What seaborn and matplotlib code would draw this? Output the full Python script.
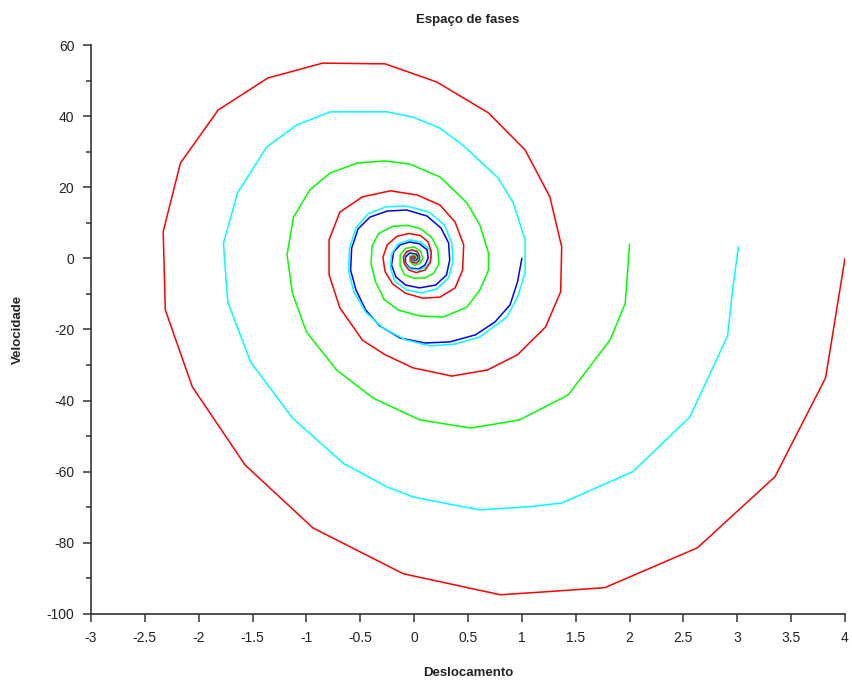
#%%
import numpy as np
import pandas as pd
import matplotlib
matplotlib.use('Agg')
import matplotlib.pyplot as plt
from matplotlib.ticker import MultipleLocator, FuncFormatter
import seaborn as sns

sns.set_theme(style='ticks')
plt.rcParams['font.family'] = ['Liberation Sans', 'DejaVu Sans']
plt.rcParams['axes.unicode_minus'] = False

#----------------------------------------
# Trajetórias (deslocamento, velocidade)

# x0 = 1 (azul)
x_azul = [1.00, 0.96, 0.89, 0.75, 0.57, 0.33, 0.10, -0.13, -0.32, -0.45, -0.54, -0.59,
          -0.58, -0.52, -0.41, -0.25, -0.07, 0.12, 0.25, 0.32, 0.33, 0.30, 0.20,
          0.05, -0.08, -0.17, -0.21, -0.19, -0.13, -0.04, 0.05, 0.12, 0.13, 0.10, 0.04,
          -0.04, -0.08, -0.08, -0.04, 0.02, 0.04, 0.01, -0.02, 0.00]
v_azul = [0.0, -6.6, -13.1, -17.9, -21.5, -23.5, -23.8, -22.4, -19.0, -14.5, -8.9, -3.3,
          2.9, 8.3, 11.6, 13.3, 13.6, 11.9, 8.5, 4.3, -0.5, -4.7, -7.5,
          -8.3, -7.5, -5.2, -1.9, 1.8, 3.8, 4.6, 4.1, 2.4, 0.1, -1.9, -3.0,
          -2.7, -1.3, 0.4, 1.5, 1.2, 0.1, -0.7, -0.2, 0.1]

# x0 = 2 (verde)
x_verde = [2.00, 1.96, 1.82, 1.43, 0.98, 0.71, 0.52, 0.05, -0.38, -0.72, -1.00, -1.13,
           -1.18, -1.12, -0.97, -0.78, -0.53, -0.27, -0.04, 0.24, 0.49, 0.61, 0.69,
           0.69, 0.61, 0.49, 0.27, 0.05,
           -0.15, -0.28, -0.36, -0.40, -0.39, -0.33, -0.20, -0.06, 0.06, 0.16, 0.22,
           0.23, 0.18, 0.10, 0.00, -0.09, -0.13, -0.13, -0.08, 0.00, 0.06, 0.08,
           0.05, 0.00, -0.04, -0.04, 0.00, 0.02, 0.00]
v_verde = [4.0, -12.6, -22.9, -38.4, -45.4, -46.8, -47.7, -45.4, -39.3, -31.4, -20.7, -9.8,
           1.0, 11.6, 19.2, 24.0, 26.8, 27.4, 26.5, 22.9, 15.6, 9.4, 1.5,
           -3.3, -8.9, -13.7, -16.5, -16.2,
           -14.5, -11.5, -6.5, -1.5, 3.5, 7.0, 9.0, 9.3, 8.3, 6.0, 2.5,
           -1.5, -4.2, -5.5, -5.6, -4.6, -2.0, 1.0, 2.8, 3.2, 2.0, 0.0,
           -1.5, -1.9, -0.9, 0.5, 1.0, 0.3, -0.3]

# x0 = 3 (ciano)
x_ciano = [3.01, 2.96, 2.91, 2.56, 2.03, 1.37, 1.05, 0.61, 0.36, -0.01, -0.25, -0.66,
           -1.13, -1.52, -1.73, -1.76, -1.77, -1.64, -1.37, -1.09, -0.78, -0.25, -0.01,
           0.24, 0.45, 0.78, 0.92, 1.03, 1.03, 0.96, 0.86, 0.61,
           0.38, 0.15, -0.08, -0.29, -0.45, -0.56, -0.61, -0.60, -0.54, -0.43, -0.26,
           -0.07, 0.14, 0.28, 0.35, 0.36, 0.32, 0.21, 0.07, -0.07, -0.18, -0.22,
           -0.21, -0.15, -0.04, 0.06, 0.14, 0.16, 0.12, 0.05, -0.04, -0.09, -0.09,
           -0.05, 0.02, 0.05, 0.04, -0.01, -0.03, 0.00]
v_ciano = [3.2, -8.0, -21.8, -44.6, -60.0, -68.8, -69.9, -70.7, -69.3, -67.1, -64.3, -57.6,
           -44.9, -29.1, -12.3, -0.4, 4.3, 18.4, 31.3, 37.5, 41.2, 41.2, 39.7,
           36.6, 31.9, 22.6, 15.6, 5.2, -4.1, -10.9, -16.5, -22.1,
           -24.1, -24.6, -22.9, -19.6, -15.1, -9.4, -3.3, 2.9, 8.6, 12.5, 14.5,
           14.7, 13.0, 9.4, 4.3, -1.0, -5.5, -8.6, -9.7, -8.9, -6.4, -2.7,
           1.2, 4.0, 5.2, 4.6, 2.6, 0.1, -2.1, -3.3, -3.0, -1.3, 0.7,
           2.1, 2.1, 0.7, -0.7, -1.0, 0.1, 0.4]

# x0 = 4 (vermelho)
x_verm = [4.00, 3.82, 3.35, 2.63, 1.77, 1.30, 0.80, -0.10, -0.94, -1.57, -2.06, -2.31, -2.33,
          -2.17, -1.82, -1.36, -0.85, -0.27, 0.21, 0.69, 1.03, 1.26, 1.37, 1.36,
          1.22, 0.96, 0.68, 0.35, -0.01, -0.27, -0.48, -0.69, -0.79, -0.79,
          -0.69, -0.48, -0.22, 0.03, 0.24, 0.38, 0.46, 0.45, 0.38, 0.24,
          0.08, -0.08, -0.20, -0.27, -0.29, -0.25, -0.16, -0.05, 0.06, 0.13, 0.16,
          0.15, 0.10, 0.02, -0.05, -0.09, -0.10, -0.07, -0.02, 0.03, 0.05, 0.05,
          0.02, -0.01, -0.03, -0.03, 0.00, 0.01, 0.00]
v_verm = [0.0, -33.6, -61.4, -81.4, -92.6, -93.6, -94.6, -88.7, -75.8, -58.1, -36.1, -14.5, 7.5,
          26.8, 41.7, 50.7, 54.9, 54.7, 49.6, 40.9, 30.5, 17.3, 3.2, -9.4,
          -19.3, -27.1, -31.4, -33.1, -30.8, -27.1, -23.0, -13.9, -4.6, 5.2,
          13.0, 17.3, 19.0, 17.8, 15.0, 10.2, 3.8, -3.3, -8.3, -10.9,
          -11.2, -9.8, -7.2, -3.7, 0.3, 3.8, 6.2, 7.0, 6.4, 4.6, 1.8,
          -1.2, -3.3, -4.0, -3.3, -1.6, 0.4, 1.9, 2.4, 1.9, 0.6, -0.6,
          -1.3, -1.2, -0.5, 0.3, 0.6, 0.2, -0.1]

series = ['x0=1', 'x0=2', 'x0=3', 'x0=4']
cores = ['#0000ff', '#00ff00', '#00ffff', '#ff0000']

#----------------------------------------
#%%
frames = []
for nome, xs, vs in zip(series,
                        [x_azul, x_verde, x_ciano, x_verm],
                        [v_azul, v_verde, v_ciano, v_verm]):
    frames.append(pd.DataFrame({'Deslocamento': xs, 'Velocidade': vs,
                                'serie': nome, 'ordem': np.arange(len(xs))}))
df = pd.concat(frames, ignore_index=True)

fig = plt.figure(figsize=(8.53, 6.86), dpi=100)
ax = fig.add_axes([0.1067, 0.1050, 0.8839, 0.8294])

sns.lineplot(data=df, x='Deslocamento', y='Velocidade', hue='serie',
             hue_order=series, palette=cores, sort=False, estimator=None,
             linewidth=1.1, legend=False, ax=ax)

ax.set_xlim(-3, 4)
ax.set_ylim(-100, 60)
ax.xaxis.set_major_locator(MultipleLocator(0.5))
ax.yaxis.set_major_locator(MultipleLocator(20))
ax.yaxis.set_minor_locator(MultipleLocator(10))
fmt = FuncFormatter(lambda v, p: '%g' % v)
ax.xaxis.set_major_formatter(fmt)
ax.yaxis.set_major_formatter(fmt)

sns.despine(ax=ax)
for s in ['left', 'bottom']:
    ax.spines[s].set_color('#333333')
    ax.spines[s].set_linewidth(1.2)
ax.tick_params(axis='both', which='major', direction='out', length=6, width=1.1,
               color='#333333', labelsize=10, labelcolor='#222222', pad=6)
ax.tick_params(axis='y', which='minor', direction='out', length=3.5, width=1.1,
               color='#333333')

ax.set_title('Espaço de fases', fontsize=9.5, fontweight='bold', color='#222222', pad=16)
ax.set_xlabel('Deslocamento', fontsize=9.5, fontweight='bold', color='#222222', labelpad=16)
ax.set_ylabel('Velocidade', fontsize=9.5, fontweight='bold', color='#222222', labelpad=16)

fig.savefig('out.png', dpi=100)
